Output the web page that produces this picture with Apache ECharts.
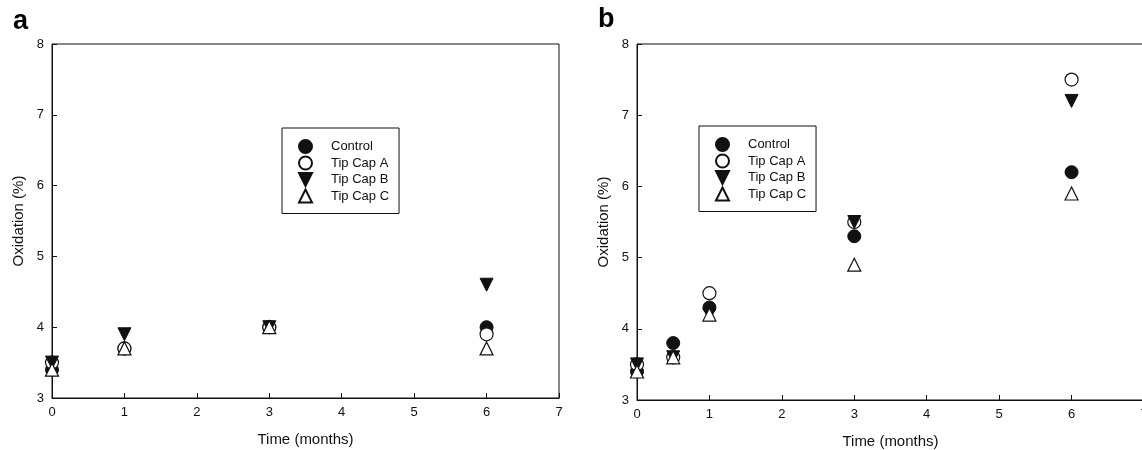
<!DOCTYPE html>
<html>
<head>
<meta charset="utf-8">
<script src="https://cdn.jsdelivr.net/npm/echarts@6/dist/echarts.min.js"></script>
<style>
  html, body { margin: 0; padding: 0; background: #fff; }
  #chart { width: 1142px; height: 450px; }
</style>
</head>
<body>
<div id="chart"></div>
<script>
  // panel a
  const monthsA = [0, 1, 3, 6]
  const controlA = [3.4, 3.7, 4.0, 4.0]
  const tipCapAA = [3.5, 3.7, 4.0, 3.9]
  const tipCapBA = [3.5, 3.9, 4.0, 4.6]
  const tipCapCA = [3.4, 3.7, 4.0, 3.7]
  // panel b
  const monthsB = [0, 0.5, 1, 3, 6]
  const controlB = [3.4, 3.8, 4.3, 5.3, 6.2]
  const tipCapAB = [3.5, 3.6, 4.5, 5.5, 7.5]
  const tipCapBB = [3.5, 3.6, 4.2, 5.5, 7.2]
  const tipCapCB = [3.4, 3.6, 4.2, 4.9, 5.9]

  const names = ['Control', 'Tip Cap A', 'Tip Cap B', 'Tip Cap C']
  const font = 'Liberation Sans, Arial, sans-serif'
  const ink = '#111'

  const styles = {
    'Control': { symbol: 'circle', itemStyle: { color: ink, borderColor: ink, borderWidth: 1, opacity: 1 } },
    'Tip Cap A': { symbol: 'circle', itemStyle: { color: '#fff', borderColor: ink, borderWidth: 1.2, opacity: 1 } },
    'Tip Cap B': { symbol: 'path://M0,0 L10,0 L5,10 Z', itemStyle: { color: ink, borderColor: ink, borderWidth: 1, opacity: 1 } },
    'Tip Cap C': { symbol: 'triangle', itemStyle: { color: '#fff', borderColor: ink, borderWidth: 1.2, opacity: 1 } }
  }

  function pairs(xs, ys) {
    return xs.map((x, i) => [x, ys[i]])
  }

  function makeSeries(gridIdx, xs, sets) {
    return sets.map((ys, k) => ({
      name: names[k],
      type: 'scatter',
      xAxisIndex: gridIdx,
      yAxisIndex: gridIdx,
      symbol: styles[names[k]].symbol,
      symbolSize: 13,
      itemStyle: styles[names[k]].itemStyle,
      emphasis: { disabled: true },
      data: pairs(xs, ys)
    }))
  }

  function xAxis(gridIdx) {
    return {
      gridIndex: gridIdx,
      type: 'value',
      min: 0,
      max: 7,
      interval: 1,
      name: 'Time (months)',
      nameLocation: 'middle',
      nameGap: 34,
      nameTextStyle: { fontFamily: font, fontSize: 15, color: ink },
      axisLine: { lineStyle: { color: ink, width: 1 } },
      axisTick: { inside: true, length: 5, lineStyle: { color: ink } },
      axisLabel: { fontFamily: font, fontSize: 13, color: ink, margin: 8 },
      splitLine: { show: false }
    }
  }

  function yAxis(gridIdx) {
    return {
      gridIndex: gridIdx,
      type: 'value',
      min: 3,
      max: 8,
      interval: 1,
      name: 'Oxidation (%)',
      nameLocation: 'middle',
      nameGap: 26,
      nameTextStyle: { fontFamily: font, fontSize: 15, color: ink },
      axisLine: { lineStyle: { color: ink, width: 1 } },
      axisTick: { inside: true, length: 5, lineStyle: { color: ink } },
      axisLabel: { fontFamily: font, fontSize: 13, color: ink, margin: 8 },
      splitLine: { show: false }
    }
  }

  function legend(left, top) {
    return {
      left: left,
      top: top,
      orient: 'vertical',
      data: names,
      itemWidth: 13,
      itemHeight: 13,
      itemGap: 1.5,
      padding: [11, 10, 10, 16],
      borderColor: ink,
      borderWidth: 1,
      borderRadius: 0,
      backgroundColor: '#fff',
      selectedMode: false,
      textStyle: { fontFamily: font, fontSize: 13, color: ink, padding: [0, 0, 0, 14] }
    }
  }

  const chart = echarts.init(document.getElementById('chart'))
  chart.setOption({
    animation: false,
    backgroundColor: '#fff',
    grid: [
      { left: 52, top: 44, width: 507, height: 354, outerBoundsMode: 'none', show: true, borderColor: ink, borderWidth: 1, backgroundColor: 'transparent' },
      { left: 637, top: 44, width: 507, height: 356, outerBoundsMode: 'none', show: true, borderColor: ink, borderWidth: 1, backgroundColor: 'transparent' }
    ],
    xAxis: [xAxis(0), xAxis(1)],
    yAxis: [yAxis(0), yAxis(1)],
    legend: [legend(282, 128), legend(699, 126)],
    graphic: [
      { type: 'text', left: 13, top: 8, style: { text: 'a', font: 'bold 27px ' + font, fill: '#000' } },
      { type: 'text', left: 598, top: 6, style: { text: 'b', font: 'bold 27px ' + font, fill: '#000' } }
    ],
    series: [
      ...makeSeries(0, monthsA, [controlA, tipCapAA, tipCapBA, tipCapCA]),
      ...makeSeries(1, monthsB, [controlB, tipCapAB, tipCapBB, tipCapCB])
    ]
  })
</script>
</body>
</html>
